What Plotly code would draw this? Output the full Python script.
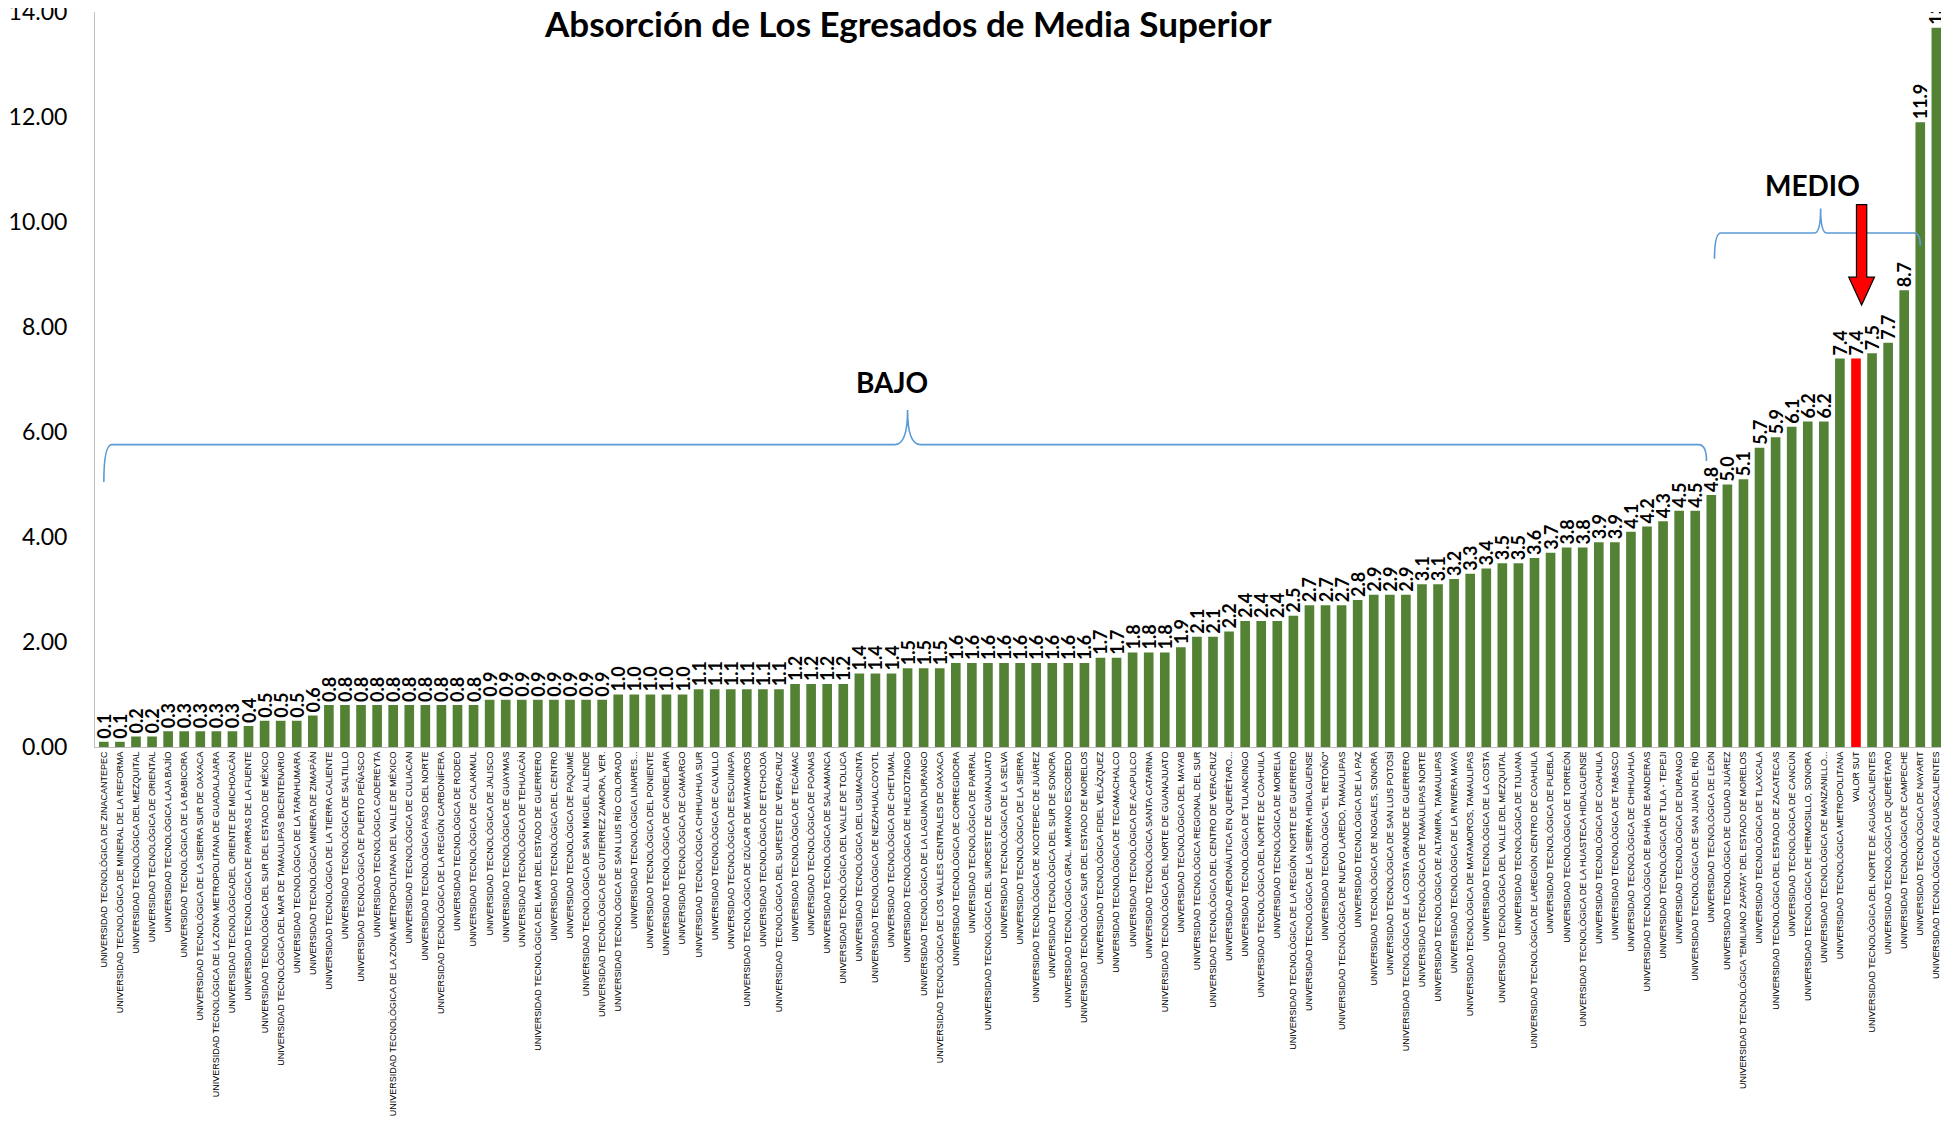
import plotly.graph_objects as go

categories = [
    "UNIVERSIDAD TECNOLÓGICA DE ZINACANTEPEC",
    "UNIVERSIDAD TECNOLÓGICA DE MINERAL DE LA REFORMA",
    "UNIVERSIDAD TECNOLÓGICA DEL MEZQUITAL",
    "UNIVERSIDAD TECNOLÓGICA DE ORIENTAL",
    "UNIVERSIDAD TECNOLÓGICA LAJA BAJÍO",
    "UNIVERSIDAD TECNOLÓGICA DE LA BABICORA",
    "UNIVERSIDAD TECNOLÓGICA DE LA SIERRA SUR DE OAXACA",
    "UNIVERSIDAD TECNOLÓGICA DE LA ZONA METROPOLITANA DE GUADALAJARA",
    "UNIVERSIDAD TECNOLÓGICADEL ORIENTE DE MICHOACÁN",
    "UNIVERSIDAD TECNOLÓGICA DE PARRAS DE LA FUENTE",
    "UNIVERSIDAD TECNOLÓGICA DEL SUR DEL ESTADO DE MÉXICO",
    "UNIVERSIDAD TECNOLÓGICA DEL MAR DE TAMAULIPAS BICENTENARIO",
    "UNIVERSIDAD TECNOLÓGICA DE LA TARAHUMARA",
    "UNIVERSIDAD TECNOLÓGICA MINERA DE ZIMAPÁN",
    "UNIVERSIDAD TECNOLÓGICA DE LA TIERRA CALIENTE",
    "UNIVERSIDAD TECNOLÓGICA DE SALTILLO",
    "UNIVERSIDAD TECNOLÓGICA DE PUERTO PEÑASCO",
    "UNIVERSIDAD TECNOLÓGICA CADEREYTA",
    "UNIVERSIDAD TECNOLÓGICA DE LA ZONA METROPOLITANA DEL VALLE DE MÉXICO",
    "UNIVERSIDAD TECNOLÓGICA DE CULIACAN",
    "UNIVERSIDAD TECNOLÓGICA PASO DEL NORTE",
    "UNIVERSIDAD TECNOLÓGICA DE LA REGIÓN CARBONÍFERA",
    "UNIVERSIDAD TECNOLÓGICA DE RODEO",
    "UNIVERSIDAD TECNOLÓGICA DE CALAKMUL",
    "UNIVERSIDAD TECNOLÓGICA DE JALISCO",
    "UNIVERSIDAD TECNOLÓGICA DE GUAYMAS",
    "UNIVERSIDAD TECNOLÓGICA DE TEHUACÁN",
    "UNIVERSIDAD TECNOLÓGICA DEL MAR DEL ESTADO DE GUERRERO",
    "UNIVERSIDAD TECNOLÓGICA DEL CENTRO",
    "UNIVERSIDAD TECNOLÓGICA DE PAQUIMÉ",
    "UNIVERSIDAD TECNOLÓGICA DE SAN MIGUEL ALLENDE",
    "UNIVERSIDAD TECNOLÓGICA DE GUTIERREZ ZAMORA, VER.",
    "UNIVERSIDAD TECNOLÓGICA DE SAN LUIS RÍO COLORADO",
    "UNIVERSIDAD TECNOLÓGICA LINARES...",
    "UNIVERSIDAD TECNOLÓGICA DEL PONIENTE",
    "UNIVERSIDAD TECNOLÓGICA DE CANDELARIA",
    "UNIVERSIDAD TECNOLÓGICA DE CAMARGO",
    "UNIVERSIDAD TECNOLÓGICA CHIHUAHUA SUR",
    "UNIVERSIDAD TECNOLÓGICA DE CALVILLO",
    "UNIVERSIDAD TECNOLÓGICA DE ESCUINAPA",
    "UNIVERSIDAD TECNOLÓGICA DE IZÚCAR DE MATAMOROS",
    "UNIVERSIDAD TECNOLÓGICA DE ETCHOJOA",
    "UNIVERSIDAD TECNOLÓGICA DEL SURESTE DE VERACRUZ",
    "UNIVERSIDAD TECNOLÓGICA DE TECÁMAC",
    "UNIVERSIDAD TECNOLÓGICA DE POANAS",
    "UNIVERSIDAD TECNOLÓGICA DE SALAMANCA",
    "UNIVERSIDAD TECNOLÓGICA DEL VALLE DE TOLUCA",
    "UNIVERSIDAD TECNOLÓGICA DEL USUMACINTA",
    "UNIVERSIDAD TECNOLÓGICA DE NEZAHUALCOYOTL",
    "UNIVERSIDAD TECNOLÓGICA DE CHETUMAL",
    "UNIVERSIDAD TECNOLÓGICA DE HUEJOTZINGO",
    "UNIVERSIDAD TECNOLÓGICA DE LA LAGUNA DURANGO",
    "UNIVERSIDAD TECNOLÓGICA DE LOS VALLES CENTRALES DE OAXACA",
    "UNIVERSIDAD TECNOLÓGICA DE CORREGIDORA",
    "UNIVERSIDAD TECNOLÓGICA DE PARRAL",
    "UNIVERSIDAD TECNOLÓGICA DEL SUROESTE DE GUANAJUATO",
    "UNIVERSIDAD TECNOLÓGICA DE LA SELVA",
    "UNIVERSIDAD TECNOLÓGICA DE LA SIERRA",
    "UNIVERSIDAD TECNOLÓGICA DE XICOTEPEC DE JUÁREZ",
    "UNIVERSIDAD TECNOLÓGICA DEL SUR DE SONORA",
    "UNIVERSIDAD TECNOLÓGICA GRAL. MARIANO ESCOBEDO",
    "UNIVERSIDAD TECNOLÓGICA SUR DEL ESTADO DE MORELOS",
    "UNIVERSIDAD TECNOLÓGICA FIDEL VELÁZQUEZ",
    "UNIVERSIDAD TECNOLÓGICA DE TECAMACHALCO",
    "UNIVERSIDAD TECNOLÓGICA DE ACAPULCO",
    "UNIVERSIDAD TECNOLÓGICA SANTA CATARINA",
    "UNIVERSIDAD TECNOLÓGICA DEL NORTE DE GUANAJUATO",
    "UNIVERSIDAD TECNOLÓGICA DEL MAYAB",
    "UNIVERSIDAD TECNOLÓGICA REGIONAL DEL SUR",
    "UNIVERSIDAD TECNOLÓGICA DEL CENTRO DE VERACRUZ",
    "UNIVERSIDAD AERONÁUTICA EN QUERÉTARO...",
    "UNIVERSIDAD TECNOLÓGICA DE TULANCINGO",
    "UNIVERSIDAD TECNOLÓGICA DEL NORTE DE COAHUILA",
    "UNIVERSIDAD TECNOLÓGICA DE MORELIA",
    "UNIVERSIDAD TECNOLÓGICA DE LA REGIÓN NORTE DE GUERRERO",
    "UNIVERSIDAD TECNOLÓGICA DE LA SIERRA HIDALGUENSE",
    "UNIVERSIDAD TECNOLÓGICA \"EL RETOÑO\"",
    "UNIVERSIDAD TECNOLÓGICA DE NUEVO LAREDO, TAMAULIPAS",
    "UNIVERSIDAD TECNOLÓGICA DE LA PAZ",
    "UNIVERSIDAD TECNOLÓGICA DE NOGALES, SONORA",
    "UNIVERSIDAD TECNOLÓGICA DE SAN LUIS POTOSÍ",
    "UNIVERSIDAD TECNOLÓGICA DE LA COSTA GRANDE DE GUERRERO",
    "UNIVERSIDAD TECNOLÓGICA DE TAMAULIPAS NORTE",
    "UNIVERSIDAD TECNOLÓGICA DE ALTAMIRA, TAMAULIPAS",
    "UNIVERSIDAD TECNOLÓGICA DE LA RIVIERA MAYA",
    "UNIVERSIDAD TECNOLÓGICA DE MATAMOROS, TAMAULIPAS",
    "UNIVERSIDAD TECNOLÓGICA DE LA COSTA",
    "UNIVERSIDAD TECNOLÓGICA DEL VALLE DEL MEZQUITAL",
    "UNIVERSIDAD TECNOLÓGICA DE TIJUANA",
    "UNIVERSIDAD TECNOLÓGICA DE LAREGIÓN CENTRO DE COAHUILA",
    "UNIVERSIDAD TECNOLÓGICA DE PUEBLA",
    "UNIVERSIDAD TECNOLÓGICA DE TORREÓN",
    "UNIVERSIDAD TECNOLÓGICA DE LA HUASTECA HIDALGUENSE",
    "UNIVERSIDAD TECNOLÓGICA DE COAHUILA",
    "UNIVERSIDAD TECNOLÓGICA DE TABASCO",
    "UNIVERSIDAD TECNOLÓGICA DE CHIHUAHUA",
    "UNIVERSIDAD TECNOLÓGICA DE BAHÍA DE BANDERAS",
    "UNIVERSIDAD TECNOLÓGICA DE TULA - TEPEJI",
    "UNIVERSIDAD TECNOLÓGICA DE DURANGO",
    "UNIVERSIDAD TECNOLÓGICA DE SAN JUAN DEL RÍO",
    "UNIVERSIDAD TECNOLÓGICA DE LEÓN",
    "UNIVERSIDAD TECNOLÓGICA DE CIUDAD JUÁREZ",
    "UNIVERSIDAD TECNOLÓGICA \"EMILIANO ZAPATA\" DEL ESTADO DE MORELOS",
    "UNIVERSIDAD TECNOLÓGICA DE TLAXCALA",
    "UNIVERSIDAD TECNOLÓGICA DEL ESTADO DE ZACATECAS",
    "UNIVERSIDAD TECNOLÓGICA DE CANCÚN",
    "UNIVERSIDAD TECNOLÓGICA DE HERMOSILLO, SONORA",
    "UNIVERSIDAD TECNOLÓGICA DE MANZANILLO...",
    "UNIVERSIDAD TECNOLÓGICA METROPOLITANA",
    "VALOR SUT",
    "UNIVERSIDAD TECNOLÓGICA DEL NORTE DE AGUASCALIENTES",
    "UNIVERSIDAD TECNOLÓGICA DE QUERÉTARO",
    "UNIVERSIDAD TECNOLÓGICA DE CAMPECHE",
    "UNIVERSIDAD TECNOLÓGICA DE NAYARIT",
    "UNIVERSIDAD TECNOLÓGICA DE AGUASCALIENTES",
]

values = [
    0.1, 0.1, 0.2, 0.2, 0.3, 0.3, 0.3, 0.3, 0.3, 0.4,
    0.5, 0.5, 0.5, 0.6,
    0.8, 0.8, 0.8, 0.8, 0.8, 0.8, 0.8, 0.8, 0.8, 0.8,
    0.9, 0.9, 0.9, 0.9, 0.9, 0.9, 0.9, 0.9,
    1.0, 1.0, 1.0, 1.0, 1.0,
    1.1, 1.1, 1.1, 1.1, 1.1, 1.1,
    1.2, 1.2, 1.2, 1.2,
    1.4, 1.4, 1.4,
    1.5, 1.5, 1.5,
    1.6, 1.6, 1.6, 1.6, 1.6, 1.6, 1.6, 1.6, 1.6,
    1.7, 1.7,
    1.8, 1.8, 1.8, 1.9,
    2.1, 2.1, 2.2,
    2.4, 2.4, 2.4, 2.5,
    2.7, 2.7, 2.7, 2.8,
    2.9, 2.9, 2.9,
    3.1, 3.1, 3.2, 3.3, 3.4, 3.5, 3.5, 3.6, 3.7,
    3.8, 3.8, 3.9, 3.9, 4.1, 4.2, 4.3, 4.5, 4.5,
    4.8, 5.0, 5.1, 5.7, 5.9, 6.1, 6.2, 6.2,
    7.4, 7.4, 7.5, 7.7, 8.7, 11.9, 13.7,
]

highlight = "VALOR SUT"
title_text = "Absorción de Los Egresados de Media Superior"
y_ticks = [0, 2, 4, 6, 8, 10, 12, 14]

GREEN = "#548235"
RED = "#FF0000"
BRACE = "#5B9BD5"
FONT = "Lato"

idx = list(range(len(categories)))
colors = [RED if c == highlight else GREEN for c in categories]

fig = go.Figure()
fig.add_trace(go.Bar(
    x=idx, y=values,
    marker=dict(color=colors, line=dict(width=0)),
    text=[f"{v:.1f}" for v in values],
    textposition="outside",
    textangle=-90,
    constraintext="none",
    cliponaxis=True,
    textfont=dict(family=FONT, size=18, color="black", weight="bold"),
    hovertext=categories,
))


def brace(x0, x1, xm, y_end0, y_end1, y_mid, y_tip, dxe, dxt):
    return (f"M {x0},{y_end0} Q {x0},{y_mid} {x0+dxe},{y_mid} "
            f"L {xm-dxt},{y_mid} Q {xm},{y_mid} {xm},{y_tip} "
            f"Q {xm},{y_mid} {xm+dxt},{y_mid} "
            f"L {x1-dxe},{y_mid} Q {x1},{y_mid} {x1},{y_end1}")


shapes = [
    dict(type="path", xref="x", yref="y",
         path=brace(0, 99.7, 50.0, 5.05, 5.45, 5.76, 6.42, 0.5, 0.8),
         line=dict(color=BRACE, width=1.6)),
    dict(type="path", xref="x", yref="y",
         path=brace(100.2, 113.0, 106.8, 9.3, 9.55, 9.79, 10.26, 0.4, 0.4),
         line=dict(color=BRACE, width=1.6)),
]

# red arrow pointing at VALOR SUT
ax = idx[categories.index(highlight)] + 0.35
arrow_path = (f"M {ax-0.32},10.33 L {ax+0.32},10.33 L {ax+0.32},8.95 "
              f"L {ax+0.8},8.95 L {ax},8.42 L {ax-0.8},8.95 L {ax-0.32},8.95 Z")
shapes.append(dict(type="path", xref="x", yref="y", path=arrow_path,
                   fillcolor=RED, line=dict(color="black", width=1.2)))

annotations = [
    dict(x=50.0, y=13.8, xref="x", yref="y", text=f"<b>{title_text}</b>",
         showarrow=False, font=dict(family=FONT, size=35, color="black"),
         xanchor="center", yanchor="middle"),
    dict(x=49.0, y=6.95, xref="x", yref="y", text="<b>BAJO</b>",
         showarrow=False, font=dict(family=FONT, size=28, color="black"),
         xanchor="center", yanchor="middle"),
    dict(x=106.3, y=10.7, xref="x", yref="y", text="<b>MEDIO</b>",
         showarrow=False, font=dict(family=FONT, size=28, color="black"),
         xanchor="center", yanchor="middle"),
]

# page body has an 8px margin: size the figure so it fits the 1949x1129 window
fig.update_layout(
    width=1941, height=1121,
    margin=dict(l=87, r=3, t=4, b=382),
    paper_bgcolor="white", plot_bgcolor="white",
    showlegend=False,
    bargap=0.4,
    shapes=shapes,
    annotations=annotations,
    font=dict(family=FONT),
)
fig.update_xaxes(
    range=[-0.55, len(categories) - 0.4],
    tickmode="array", tickvals=idx, ticktext=categories,
    tickangle=-90,
    tickfont=dict(family="Liberation Sans", size=9, color="black"),
    showgrid=False, zeroline=False,
    showline=True, linecolor="#BFBFBF", linewidth=1,
    ticks="", automargin=False,
)
fig.update_yaxes(
    range=[0, 14.001],
    tickmode="array", tickvals=y_ticks,
    tickformat=".2f",
    tickfont=dict(family=FONT, size=23, color="black"),
    ticklabelstandoff=22,
    ticklabeloverflow="allow",
    showgrid=False, zeroline=False,
    showline=True, linecolor="#BFBFBF", linewidth=1,
    ticks="", automargin=False,
)

fig.write_html("out.html")
